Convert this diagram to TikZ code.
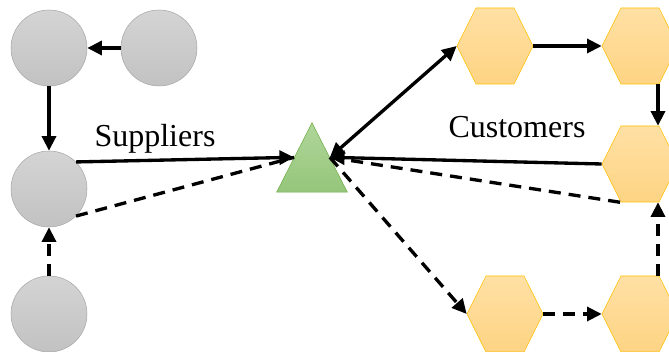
\documentclass[tikz,border=0pt]{standalone}
\usepackage{fontspec}
\setmainfont{Liberation Serif}
\usetikzlibrary{arrows.meta,shapes.geometric,shapes.symbols,calc}

\definecolor{suptop}{RGB}{212,212,212}
\definecolor{supbot}{RGB}{194,194,194}
\definecolor{supline}{RGB}{168,168,168}
\definecolor{hubtop}{RGB}{176,214,154}
\definecolor{hubbot}{RGB}{148,198,122}
\definecolor{hubline}{RGB}{112,173,71}
\definecolor{custtop}{RGB}{255,224,164}
\definecolor{custbot}{RGB}{254,212,132}
\definecolor{custline}{RGB}{255,192,0}

\begin{document}
\begin{tikzpicture}[
  x=0.75pt, y=-0.75pt,
  every node/.style={font=\fontsize{24}{28}\selectfont},
  supplier/.style={circle, draw=supline, top color=suptop, bottom color=supbot,
    minimum size=57pt, inner sep=0pt},
  hub/.style={isosceles triangle, shape border rotate=90,
    isosceles triangle apex angle=54, isosceles triangle stretches,
    draw=hubline, top color=hubtop, bottom color=hubbot,
    minimum width=53pt, minimum height=52pt, inner sep=0pt},
  customer/.style={signal, signal to=east and west, signal pointer angle=127,
    draw=custline, top color=custtop, bottom color=custbot,
    minimum width=57pt, minimum height=57pt, inner sep=0pt},
  flow/.style={line width=2.5pt, -{Triangle[length=11pt,width=10.5pt]}},
  info/.style={flow, dash pattern=on 9pt off 6pt}
]
  \useasboundingbox (0,0) rectangle (669,352);

  % suppliers
  \node[supplier] (s1) at (49,48) {};
  \node[supplier] (s2) at (159,48) {};
  \node[supplier] (s3) at (49,189) {};
  \node[supplier] (s4) at (49,314) {};

  % focal firm
  \node[hub] (hub) at (312,170.5) {};

  % customers
  \node[customer] (c1) at (495,46) {};
  \node[customer] (c2) at (640,46) {};
  \node[customer] (c3) at (640,164) {};
  \node[customer] (c4) at (505,314) {};
  \node[customer] (c5) at (640,314) {};

  \node[anchor=base] (suplabel) at (155,147) {Suppliers};
  \node[anchor=base] (custlabel) at (517,138) {Customers};

  \draw[flow] (s2) -- (s1);
  \draw[flow] (s1) -- (s3);
  \draw[info] (s4) -- (s3);
  \draw[flow] (s3.north east) -- (hub.left side);
  \draw[info, -] (s3.south east) -- (hub.left side);

  \draw[flow, {Triangle[length=11pt,width=10.5pt]}-{Triangle[length=11pt,width=10.5pt]}]
    (hub.right side) -- (c1.west);
  \draw[flow] (c1) -- (c2);
  \draw[flow] ($(c2.south)+(18,0)$) -- ($(c3.north)+(18,0)$);
  \draw[flow] (c3.west) -- (hub.right side);
  \draw[info, -] ($(c3.south)+(-20,0)$) -- (hub.right side);
  \draw[info] (hub.right side) -- (c4.west);
  \draw[info] (c4) -- (c5);
  \draw[info] ($(c5.north)+(18,0)$) -- ($(c3.south)+(18,0)$);
\end{tikzpicture}
\end{document}
